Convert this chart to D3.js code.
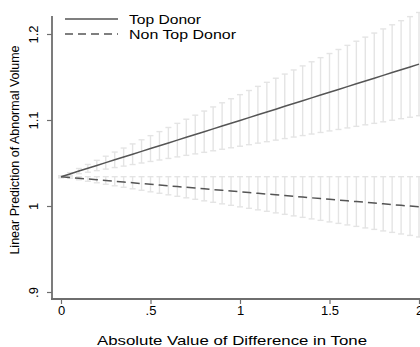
<!DOCTYPE html>
<html>
<head>
<meta charset="utf-8">
<script src="https://cdn.jsdelivr.net/npm/d3@7"></script>
<style>
  html, body { margin: 0; padding: 0; background: #fff; }
  svg { display: block; font-family: "Liberation Sans", Arial, sans-serif; }
</style>
</head>
<body>
<svg id="chart" width="420" height="347"></svg>
<script>
// Absolute difference in tone, evaluated every 0.05
const toneDiff = [0,0.05,0.1,0.15,0.2,0.25,0.3,0.35,0.4,0.45,0.5,0.55,0.6,0.65,0.7,0.75,0.8,0.85,0.9,0.95,
  1,1.05,1.1,1.15,1.2,1.25,1.3,1.35,1.4,1.45,1.5,1.55,1.6,1.65,1.7,1.75,1.8,1.85,1.9,1.95,2];

// Top donor: linear prediction and confidence bounds
const topMean = [1.0340,1.0373,1.0406,1.0438,1.0471,1.0504,1.0537,1.0569,1.0602,1.0635,1.0668,1.0700,1.0733,1.0766,1.0799,1.0831,1.0864,1.0897,1.0930,1.0962,
  1.0995,1.1028,1.1061,1.1093,1.1126,1.1159,1.1192,1.1224,1.1257,1.1290,1.1323,1.1355,1.1388,1.1421,1.1454,1.1486,1.1519,1.1552,1.1585,1.1617,1.1650];
const topLower = [1.0330,1.0358,1.0376,1.0393,1.0411,1.0429,1.0447,1.0464,1.0482,1.0500,1.0518,1.0535,1.0553,1.0571,1.0589,1.0606,1.0624,1.0642,1.0660,1.0677,
  1.0695,1.0713,1.0731,1.0748,1.0766,1.0784,1.0802,1.0819,1.0837,1.0855,1.0873,1.0890,1.0908,1.0926,1.0944,1.0961,1.0979,1.0997,1.1015,1.1032,1.1050];
const topUpper = [1.0350,1.0388,1.0436,1.0483,1.0531,1.0579,1.0627,1.0674,1.0722,1.0770,1.0818,1.0865,1.0913,1.0961,1.1009,1.1056,1.1104,1.1152,1.1200,1.1247,
  1.1295,1.1343,1.1391,1.1438,1.1486,1.1534,1.1582,1.1629,1.1677,1.1725,1.1773,1.1820,1.1868,1.1916,1.1964,1.2011,1.2059,1.2107,1.2155,1.2202,1.2250];

// Non top donor: linear prediction and confidence bounds
const nonMean = [1.0340,1.0331,1.0323,1.0314,1.0305,1.0296,1.0288,1.0279,1.0270,1.0261,1.0253,1.0244,1.0235,1.0226,1.0218,1.0209,1.0200,1.0191,1.0183,1.0174,
  1.0165,1.0156,1.0148,1.0139,1.0130,1.0121,1.0113,1.0104,1.0095,1.0086,1.0078,1.0069,1.0060,1.0051,1.0043,1.0034,1.0025,1.0016,1.0008,0.9999,0.9990];
const nonLower = [1.0330,1.0323,1.0305,1.0288,1.0270,1.0253,1.0235,1.0218,1.0200,1.0183,1.0165,1.0148,1.0130,1.0113,1.0095,1.0078,1.0060,1.0043,1.0025,1.0008,
  0.9990,0.9973,0.9955,0.9938,0.9920,0.9903,0.9885,0.9868,0.9850,0.9833,0.9815,0.9798,0.9780,0.9763,0.9745,0.9728,0.9710,0.9693,0.9675,0.9658,0.9640];
const nonUpper = [1.0350,1.0340,1.0341,1.0341,1.0341,1.0341,1.0341,1.0341,1.0341,1.0341,1.0341,1.0341,1.0341,1.0341,1.0341,1.0341,1.0341,1.0341,1.0341,1.0341,
  1.0341,1.0341,1.0341,1.0341,1.0341,1.0341,1.0341,1.0341,1.0341,1.0341,1.0341,1.0341,1.0341,1.0341,1.0341,1.0341,1.0341,1.0341,1.0341,1.0341,1.0341];

const xTicks = [0, 0.5, 1, 1.5, 2];
const xTickLabels = ["0", ".5", "1", "1.5", "2"];
const yTicks = [0.9, 1, 1.1, 1.2];
const yTickLabels = [".9", "1", "1.1", "1.2"];
const seriesNames = ["Top Donor", "Non Top Donor"];

const svg = d3.select("#chart");
const x = d3.scaleLinear().domain([0, 2]).range([61, 419]);
const y = d3.scaleLinear().domain([0.9, 1.2]).range([292, 34]);

const axisColor = "#6e6e6e";
const lineColor = "#555555";
const barColor = "#e4e4e4";

// Confidence interval bars (drawn beneath the prediction lines)
function errorBars(lower, upper) {
  const g = svg.append("g").attr("stroke", barColor).attr("stroke-width", 1.4).attr("fill", "none");
  toneDiff.forEach((d, i) => {
    const cx = x(d), y0 = y(lower[i]), y1 = y(upper[i]);
    g.append("line").attr("x1", cx).attr("x2", cx).attr("y1", y0).attr("y2", y1);
    g.append("line").attr("x1", cx - 3).attr("x2", cx + 3).attr("y1", y0).attr("y2", y0);
    g.append("line").attr("x1", cx - 3).attr("x2", cx + 3).attr("y1", y1).attr("y2", y1);
  });
}
errorBars(nonLower, nonUpper);
errorBars(topLower, topUpper);

const line = d3.line().x((d, i) => x(toneDiff[i])).y(d => y(d));
svg.append("path").datum(topMean).attr("d", line)
  .attr("fill", "none").attr("stroke", lineColor).attr("stroke-width", 1.5);
svg.append("path").datum(nonMean).attr("d", line)
  .attr("fill", "none").attr("stroke", lineColor).attr("stroke-width", 1.5)
  .attr("stroke-dasharray", "9,5");

// Axes
const yAxis = d3.axisLeft(y).tickValues(yTicks).tickSize(5).tickSizeOuter(0)
  .tickFormat((d, i) => yTickLabels[i]);
const gy = svg.append("g").attr("transform", "translate(52,0)").call(yAxis);
gy.select(".domain").remove();
gy.selectAll(".tick line").attr("stroke", axisColor).attr("stroke-width", 1.2);
gy.selectAll(".tick text").attr("fill", "#000").attr("font-size", 13)
  .attr("x", null).attr("dy", null)
  .attr("transform", "translate(-14,0) rotate(-90)")
  .attr("text-anchor", "middle").attr("y", 0);

const xAxis = d3.axisBottom(x).tickValues(xTicks).tickSize(5).tickSizeOuter(0)
  .tickFormat((d, i) => xTickLabels[i]);
const gx = svg.append("g").attr("transform", "translate(0,299)").call(xAxis);
gx.select(".domain").remove();
gx.selectAll(".tick line").attr("stroke", axisColor).attr("stroke-width", 1.2);
gx.selectAll(".tick text").attr("fill", "#000").attr("font-size", 13)
  .attr("y", 16).attr("dy", null);

svg.append("line").attr("x1", 52).attr("x2", 52).attr("y1", 16).attr("y2", 300)
  .attr("stroke", axisColor).attr("stroke-width", 1.8);
svg.append("line").attr("x1", 51).attr("x2", 420).attr("y1", 299).attr("y2", 299)
  .attr("stroke", axisColor).attr("stroke-width", 1.8);

// Axis titles
svg.append("text").attr("x", 232).attr("y", 345).attr("text-anchor", "middle")
  .attr("font-size", 13).attr("fill", "#000")
  .attr("textLength", 270).attr("lengthAdjust", "spacingAndGlyphs")
  .text("Absolute Value of Difference in Tone");
svg.append("text").attr("transform", "translate(19,150) rotate(-90)")
  .attr("text-anchor", "middle").attr("font-size", 12.5).attr("fill", "#000")
  .text("Linear Prediction of Abnormal Volume");

// Legend
const legendWidths = [72, 107];
const legend = svg.append("g");
[0, 1].forEach(i => {
  const ly = 19 + i * 15;
  legend.append("line").attr("x1", 65).attr("x2", 118).attr("y1", ly).attr("y2", ly)
    .attr("stroke", lineColor).attr("stroke-width", 1.5)
    .attr("stroke-dasharray", i === 1 ? "8,5" : null);
  legend.append("text").attr("x", 129).attr("y", ly + 4.5).attr("font-size", 13)
    .attr("fill", "#000")
    .attr("textLength", legendWidths[i]).attr("lengthAdjust", "spacingAndGlyphs")
    .text(seriesNames[i]);
});
</script>
</body>
</html>
